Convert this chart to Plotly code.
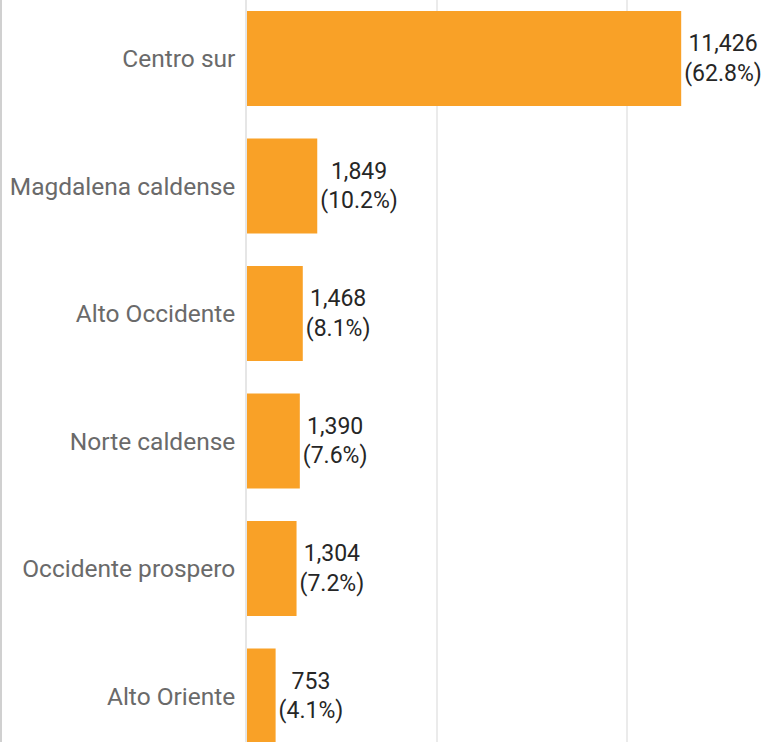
import plotly.graph_objects as go

regions = ["Centro sur", "Magdalena caldense", "Alto Occidente", "Norte caldense",
           "Occidente prospero", "Alto Oriente"]
values = [11426, 1849, 1468, 1390, 1304, 753]
percents = ["62.8%", "10.2%", "8.1%", "7.6%", "7.2%", "4.1%"]

labels = [f"{v:,}<br>({p})" for v, p in zip(values, percents)]

W, H = 767, 742
L = 247
plot_w = W - L

fig = go.Figure(go.Bar(
    x=values, y=regions, orientation="h",
    marker=dict(color="#F9A127", line=dict(width=0)),
    width=0.745,
    text=labels, textposition="outside", cliponaxis=False,
    textfont=dict(family="Roboto", size=23, color="#262626"),
    hoverinfo="skip",
))

fig.update_layout(
    width=W, height=H,
    margin=dict(l=L, r=0, t=0, b=0, pad=0),
    paper_bgcolor="white", plot_bgcolor="white",
    font=dict(family="Roboto"),
    showlegend=False,
    xaxis=dict(range=[0, 13684], tickvals=[0, 5000, 10000], showticklabels=False,
               showgrid=True, gridcolor="#EBEBEB", gridwidth=1.5, zeroline=False,
               showline=False, fixedrange=True),
    yaxis=dict(type="category", categoryorder="array", categoryarray=regions,
               range=[5.361, -0.459], showline=True, linecolor="#E6E6E6", linewidth=1.5,
               ticks="", ticklabelstandoff=5,
               tickfont=dict(family="Roboto", size=24.5, color="#6A6A6A"),
               showgrid=False, zeroline=False, fixedrange=True),
    shapes=[dict(type="line", xref="paper", yref="paper",
                 x0=-(L - 1) / plot_w, x1=-(L - 1) / plot_w, y0=0, y1=1,
                 line=dict(color="#D0D0D0", width=2))],
)

fig.write_html("out.html", config={"displayModeBar": False},
               post_script="document.body.style.margin='0';")
